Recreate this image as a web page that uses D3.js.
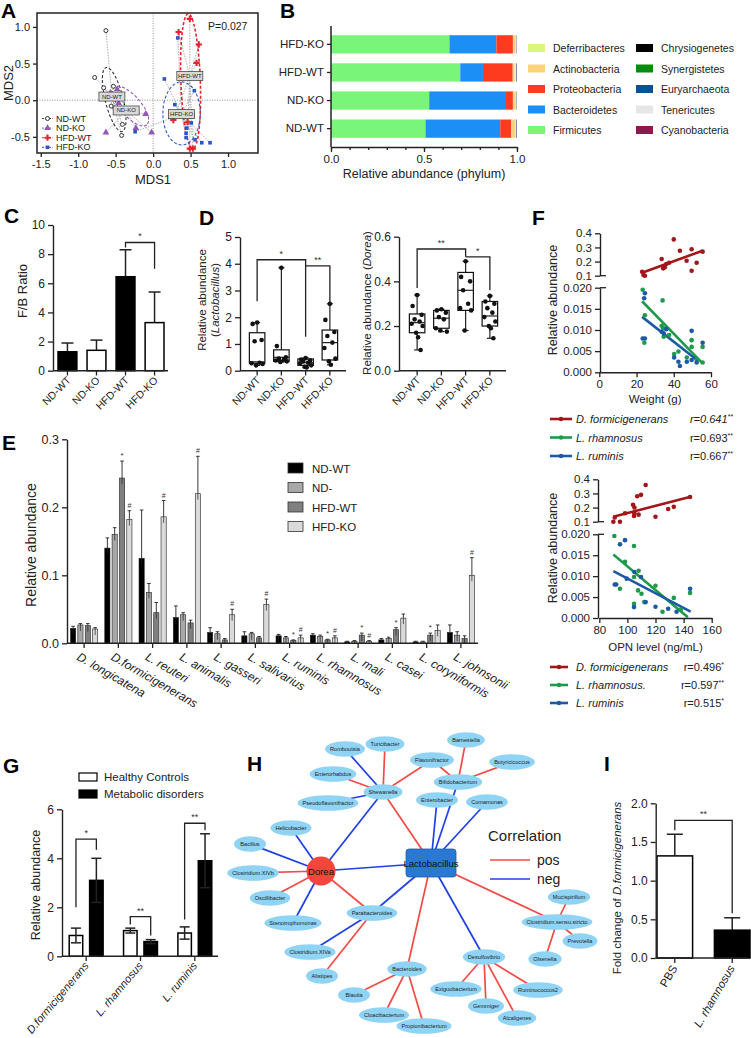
<!DOCTYPE html>
<html>
<head>
<meta charset="utf-8">
<script src="https://cdn.jsdelivr.net/npm/d3@7"></script>
<style>
body { margin: 0; background: #fff; }
svg { display: block; font-family: Arial, "Liberation Sans", Helvetica, sans-serif; }
</style>
</head>
<body>
<svg id="fig" width="751" height="1038"></svg>
<script>
// ---------------- data ----------------
// A: MDS ordination
const mdsGroups = ["ND-WT", "ND-KO", "HFD-WT", "HFD-KO"];
const mdsColors = ["#333333", "#9457b8", "#e8232d", "#2c54c9"];
const mdsShapes = ["circle", "triangle", "plus", "square"];
const mdsNDWT = [[-0.63,0.95],[-0.78,0.31],[-0.66,0.17],[-0.53,0.19],[-0.56,-0.08],[-0.51,-0.11],[-0.41,-0.33],[-0.42,-0.48]];
const mdsNDKO = [[-0.48,0.15],[-0.46,-0.04],[-0.57,0.10],[-0.63,-0.44],[-0.23,-0.38],[-0.10,-0.19],[-0.02,-0.44]];
const mdsHFDWT = [[0.49,1.11],[0.34,0.93],[0.61,0.76],[0.58,0.51],[0.27,-0.27],[0.49,-0.66],[0.53,-0.66],[0.46,-0.30]];
const mdsHFDKO = [[0.33,0.85],[0.15,0.29],[0.55,0.13],[0.29,-0.06],[0.51,-0.31],[0.45,-0.38],[0.44,-0.45],[0.44,-0.51],[0.56,-0.54],[0.65,-0.58],[0.76,-0.58],[-0.24,-0.43]];
const mdsCentroids = [[-0.55,0.05],[-0.36,-0.14],[0.49,0.33],[0.38,-0.19]];
// cx, cy, rx, ry (data units), angle
const mdsEllipses = [[-0.52,0.01,0.12,0.45,-14],[-0.30,-0.08,0.33,0.14,49],[0.50,0.26,0.13,0.92,-2],[0.38,-0.18,0.25,0.43,0]];

// B: phylum composition
const phylaGroups = ["HFD-KO", "HFD-WT", "ND-KO", "ND-WT"];
const firmicutes     = [0.637, 0.695, 0.528, 0.508];
const bacteroidetes  = [0.252, 0.122, 0.413, 0.402];
const proteobacteria = [0.089, 0.160, 0.037, 0.059];
const actinobacteria = [0.013, 0.010, 0.015, 0.022];
const deferribacteres= [0.004, 0.005, 0.003, 0.003];
const tenericutes    = [0.002, 0.003, 0.002, 0.002];
const cyanobacteria  = [0.001, 0.002, 0.001, 0.002];
const euryarchaeota  = [0.001, 0.002, 0.001, 0.002];
const phylaStackOrder = ["Firmicutes","Bacteroidetes","Proteobacteria","Actinobacteria","Deferribacteres","Tenericutes","Cyanobacteria","Euryarchaeota"];
const phylaLegend1 = ["Deferribacteres","Actinobacteria","Proteobacteria","Bacteroidetes","Firmicutes"];
const phylaLegend2 = ["Chrysiogenetes","Synergistetes","Euryarchaeota","Tenericutes","Cyanobacteria"];
const phylaColors = {Deferribacteres:"#dcf57c", Actinobacteria:"#fdd27c", Proteobacteria:"#ff3b1f", Bacteroidetes:"#1b8ff5",
  Firmicutes:"#79f57a", Chrysiogenetes:"#000000", Synergistetes:"#0b8a12", Euryarchaeota:"#0b4f98", Tenericutes:"#e6e6e6", Cyanobacteria:"#8c1a4e"};

// C: F/B ratio
const fourGroups = ["ND-WT", "ND-KO", "HFD-WT", "HFD-KO"];
const fbMean = [1.3, 1.4, 6.45, 3.3];
const fbUpper = [1.9, 2.1, 8.3, 5.4];

// D: Lactobacillus box plots
const lactoMin = [0.20, 0.32, 0.12, 0.22];
const lactoQ1  = [0.28, 0.35, 0.20, 0.40];
const lactoMed = [0.33, 0.50, 0.30, 1.05];
const lactoQ3  = [1.42, 0.78, 0.44, 1.52];
const lactoMax = [1.80, 3.85, 0.48, 2.50];
const lactoPts = [[1.8,1.75,1.15,1.1,0.3,0.28,0.25,0.2],[3.85,0.92,0.5,0.45,0.42,0.38,0.35,0.33],[0.47,0.42,0.38,0.35,0.3,0.28,0.2,0.15,0.12],[2.5,1.9,1.45,1.3,1.05,0.85,0.45,0.35,0.22]];
// D: Dorea box plots
const doreaMin = [0.093, 0.175, 0.18, 0.145];
const doreaQ1  = [0.170, 0.190, 0.27, 0.200];
const doreaMed = [0.215, 0.235, 0.36, 0.245];
const doreaQ3  = [0.254, 0.270, 0.44, 0.310];
const doreaMax = [0.339, 0.275, 0.49, 0.335];
const doreaPts = [[0.339,0.29,0.25,0.23,0.22,0.21,0.2,0.17,0.15,0.093],[0.275,0.27,0.26,0.24,0.23,0.19,0.175,0.18],[0.49,0.42,0.40,0.36,0.3,0.28,0.27,0.18],[0.335,0.31,0.3,0.28,0.26,0.24,0.22,0.2,0.19,0.145]];

// E: species abundance
const eSpecies = ["D. longicatena","D.formicigenerans","L. reuteri","L. animalis","L. gasseri","L. salivarius","L. ruminis","L. rhamnosus","L. mali","L. casei","L. coryniformis","L. johnsonii"];
const eSeries = ["ND-WT", "ND-", "HFD-WT", "HFD-KO"];
const eColors = ["#000000", "#a8a8a8", "#808080", "#dadada"];
const eNDWT     = [0.022,0.140,0.125,0.038,0.016,0.011,0.011,0.012,0.002,0.005,0.002,0.016];
const eNDWTErr  = [0.025,0.155,0.196,0.055,0.023,0.017,0.013,0.014,0.003,0.007,0.003,0.027];
const eNDKO     = [0.027,0.160,0.075,0.042,0.014,0.014,0.008,0.010,0.003,0.007,0.002,0.012];
const eNDKOErr  = [0.029,0.170,0.088,0.045,0.017,0.016,0.010,0.012,0.004,0.009,0.003,0.017];
const eHFDWT    = [0.026,0.243,0.045,0.030,0.005,0.008,0.004,0.005,0.012,0.020,0.012,0.007];
const eHFDWTErr = [0.029,0.268,0.060,0.034,0.007,0.010,0.005,0.006,0.015,0.023,0.015,0.011];
const eHFDKO    = [0.021,0.182,0.186,0.220,0.042,0.057,0.008,0.008,0.003,0.037,0.019,0.100];
const eHFDKOErr = [0.023,0.195,0.210,0.275,0.050,0.065,0.012,0.011,0.004,0.043,0.027,0.126];
const eStarWT = [0,1,0,0,0,0,1,1,1,1,1,0];
const eHashKO = [0,1,1,1,1,1,1,1,1,0,0,1];

// F: correlations
const fSpecies = ["D. formicigenerans", "L. rhamnosus", "L. ruminis"];
const fColors = ["#a3161a", "#1f9a4b", "#1d5aa5"];
const fWeightR = ["r=0.641", "r=0.693", "r=0.667"];
const fWeightStars = ["**", "**", "**"];
const fOpnNames = ["D. formicigenerans", "L. rhamnosus.", "L. ruminis"];
const fOpnR = ["r=0.496", "r=0.597", "r=0.515"];
const fOpnStars = ["*", "**", "*"];
const fWeightRedX = [23,23.7,24.5,33.5,34.3,35.2,36,37.5,40,43.3,46.9,49.6,49.6,52.3,55.5];
const fWeightRedY = [0.128,0.105,0.1,0.218,0.152,0.159,0.183,0.192,0.357,0.277,0.206,0.287,0.135,0.192,0.27];
const fWeightGreenX = [23.3,24.5,24.2,34,33.5,34.3,34.6,37.5,40.2,42.5,47,49.6,49.6,52.3,55.5,55.5];
const fWeightGreenY = [0.0195,0.0135,0.007,0.017,0.011,0.0104,0.0084,0.0088,0.0043,0.0049,0.0035,0.0076,0.006,0.003,0.006,0.0023];
const fWeightBlueX = [24.5,24.1,23.3,24.5,33.5,34.6,36,40.2,42.5,43.3,47,49.6,49.6,52.3,55.5];
const fWeightBlueY = [0.0187,0.0175,0.008,0.008,0.0096,0.0092,0.0102,0.0035,0.0025,0.0015,0.0025,0.0098,0.0029,0.0023,0.007];
const fWeightLines = [[[23,0.121],[55.5,0.277]], [[23,0.0168],[55.5,0.0021]], [[23,0.0131],[52.5,0.0029]]];
const fOpnRedX = [90,94.7,91,98.3,104.7,105,105,107,109.7,113,108,120,129,133,144.6,104];
const fOpnRedY = [0.1,0.1,0.13,0.16,0.14,0.16,0.2,0.28,0.29,0.36,0.15,0.135,0.19,0.205,0.275,0.22];
const fOpnGreenX = [90.7,98.3,94.7,104.7,104.7,108,107.6,110,120,104.7,112,133,144.6,125,138];
const fOpnGreenY = [0.0196,0.0134,0.007,0.0172,0.0098,0.0113,0.0066,0.0058,0.0077,0.0034,0.0038,0.0048,0.006,0.0015,0.002];
const fOpnBlueX = [91,92,94.7,98.3,99.5,105,109.7,113,104.7,120,129,144.6,135];
const fOpnBlueY = [0.008,0.008,0.0176,0.0186,0.0094,0.011,0.0098,0.0038,0.0026,0.0027,0.0022,0.007,0.0015];
const fOpnLines = [[[90,0.135],[145,0.277]], [[90,0.0152],[143,0.0002]], [[90,0.0112],[145,0.0015]]];

// G: human cohort
const gSpecies = ["D.formicigenerans", "L. rhamnosus", "L. ruminis"];
const gHealthy = [0.85, 1.05, 0.95];
const gHealthyErr = [0.30, 0.10, 0.25];
const gMetabolic = [3.1, 0.6, 3.9];
const gMetabolicErr = [0.9, 0.08, 1.1];

// H: co-occurrence network (layout coordinates)
const hNodes = ["Romboutsia","Turicibacter","Barnesiella","Butyricicoccus","Enterorhabdus","Flavonifractor","Bifidobacterium","Shewanella",
  "Pseudoflavonifractor","Enterobacter","Comamonas","Helicobacter","Bacillus","Dorea","Lactobacillus","Clostridium.XIVb","Oscillibacter",
  "Stenotrophomonas","Parabacteroides","Clostridium.sensu.stricto","Mucispirillum","Prevotella","Olsenella","Clostridium.XIVa","Alistipes",
  "Bacteroides","Desulfovibrio","Blautia","Exiguobacterium","Cloacibacterium","Gemmiger","Propionibacterium","Ruminococcus2","Alcaligenes"];
const hNodeX = [110,150,231,277,98,197,223,148,93,202,252,56,15,86,196,18,35,58,137,322,334,345,310,75,87,172,249,119,221,149,251,189,303,282];
const hNodeY = [14,9,5,27,39,25,47,57,68,65,67,93,109,136,128,138,163,188,178,187,162,206,224,217,241,234,222,260,254,280,271,291,255,283];
const hEdges = [
  ["Shewanella","Romboutsia","neg"],["Shewanella","Turicibacter","pos"],["Shewanella","Enterorhabdus","pos"],["Shewanella","Pseudoflavonifractor","neg"],
  ["Shewanella","Flavonifractor","pos"],["Shewanella","Dorea","neg"],["Shewanella","Lactobacillus","pos"],
  ["Bifidobacterium","Flavonifractor","pos"],["Bifidobacterium","Barnesiella","pos"],["Bifidobacterium","Butyricicoccus","pos"],["Bifidobacterium","Lactobacillus","neg"],
  ["Lactobacillus","Enterobacter","neg"],["Lactobacillus","Comamonas","neg"],["Lactobacillus","Dorea","neg"],["Lactobacillus","Parabacteroides","neg"],
  ["Lactobacillus","Bacteroides","pos"],["Lactobacillus","Desulfovibrio","neg"],["Lactobacillus","Clostridium.sensu.stricto","pos"],
  ["Dorea","Helicobacter","neg"],["Dorea","Bacillus","neg"],["Dorea","Clostridium.XIVb","pos"],["Dorea","Oscillibacter","pos"],
  ["Dorea","Stenotrophomonas","neg"],["Dorea","Parabacteroides","pos"],
  ["Parabacteroides","Clostridium.XIVa","neg"],["Parabacteroides","Alistipes","pos"],
  ["Bacteroides","Blautia","pos"],["Bacteroides","Cloacibacterium","pos"],["Bacteroides","Propionibacterium","pos"],
  ["Desulfovibrio","Exiguobacterium","pos"],["Desulfovibrio","Gemmiger","pos"],["Desulfovibrio","Ruminococcus2","pos"],["Desulfovibrio","Alcaligenes","pos"],
  ["Clostridium.sensu.stricto","Mucispirillum","pos"],["Clostridium.sensu.stricto","Prevotella","pos"],["Clostridium.sensu.stricto","Olsenella","pos"]
];

// I: qPCR fold change
const iGroups = ["PBS", "L. rhamnosus"];
const iFold = [1.32, 0.36];
const iErr = [0.28, 0.16];

// ---------------- helpers ----------------
const FONT = 'Arial, "Liberation Sans", Helvetica, sans-serif';
const svg = d3.select("#fig");
svg.append("rect").attr("width", 751).attr("height", 1038).attr("fill", "#fff");

function styleAxis(a, fs) {
    a.selectAll("path.domain").attr("stroke", "#222").attr("stroke-width", 1.4);
    a.selectAll(".tick line").attr("stroke", "#222").attr("stroke-width", 1.3);
    a.selectAll(".tick text").attr("fill", "#222").attr("font-size", fs || 11.5).attr("font-family", FONT);
}
function panelLetter(t, x, y) {
    svg.append("text").attr("x", x).attr("y", y).attr("font-size", 21).attr("font-weight", "bold")
        .attr("font-family", FONT).attr("fill", "#000").text(t);
}
function hline(g, x1, x2, y, w) {
    g.append("line").attr("x1", x1).attr("x2", x2).attr("y1", y).attr("y2", y).attr("stroke", "#222").attr("stroke-width", w || 1.3);
}
function vline(g, x, y1, y2, w) {
    g.append("line").attr("x1", x).attr("x2", x).attr("y1", y1).attr("y2", y2).attr("stroke", "#222").attr("stroke-width", w || 1.3);
}
function rotLabel(g, text, x, y, fs, italicPart) {
    const t = g.append("text").attr("transform", `translate(${x},${y}) rotate(-90)`).attr("text-anchor", "middle")
        .attr("font-size", fs).attr("font-family", FONT).attr("fill", "#222");
    t.append("tspan").text(text);
    if (italicPart) t.append("tspan").attr("font-style", "italic").text(italicPart);
    return t;
}
function bracket(g, x1, x2, y, b1, b2, mark) {
    g.append("path").attr("d", `M${x1},${b1}V${y}H${x2}V${b2}`).attr("fill", "none").attr("stroke", "#222").attr("stroke-width", 1.3);
    g.append("text").attr("x", (x1 + x2) / 2).attr("y", y - 3).attr("text-anchor", "middle").attr("font-size", 9)
        .attr("font-family", FONT).attr("fill", "#333").text(mark);
}
const intFmt = d3.format("d");

// ---------------- Panel A ----------------
(function () {
    const g = svg.append("g");
    const xA = d3.scaleLinear().domain([-1.55, 1.40]).range([37, 258]);
    const yA = d3.scaleLinear().domain([-0.72, 1.19]).range([153, 13]);
    g.append("line").attr("x1", xA(0)).attr("x2", xA(0)).attr("y1", 13).attr("y2", 153)
        .attr("stroke", "#777").attr("stroke-width", 0.8).attr("stroke-dasharray", "1,1.5");
    g.append("line").attr("x1", 37).attr("x2", 258).attr("y1", yA(0)).attr("y2", yA(0))
        .attr("stroke", "#777").attr("stroke-width", 0.8).attr("stroke-dasharray", "1,1.5");

    const allPts = [mdsNDWT, mdsNDKO, mdsHFDWT, mdsHFDKO];
    allPts.forEach((pts, i) => {
        const c = mdsCentroids[i];
        pts.forEach(p => g.append("line").attr("x1", xA(p[0])).attr("y1", yA(p[1])).attr("x2", xA(c[0])).attr("y2", yA(c[1]))
            .attr("stroke", "#9a9a9a").attr("stroke-width", 0.8).attr("stroke-dasharray", "1.5,1.2"));
    });
    mdsEllipses.forEach((e, i) => {
        g.append("ellipse").attr("transform", `translate(${xA(e[0])},${yA(e[1])}) rotate(${e[4]})`)
            .attr("rx", e[2] * (xA(1) - xA(0))).attr("ry", e[3] * (yA(0) - yA(1)))
            .attr("fill", "none").attr("stroke", mdsColors[i]).attr("stroke-width", i === 2 ? 1.6 : 1.1)
            .attr("stroke-dasharray", "3,2");
    });
    function marker(shape, x, y, color) {
        if (shape === "circle") {
            g.append("circle").attr("cx", x).attr("cy", y).attr("r", 2).attr("fill", "#fff").attr("stroke", color).attr("stroke-width", 1);
        } else {
            const sym = shape === "triangle" ? d3.symbolTriangle : shape === "plus" ? d3.symbolCross : d3.symbolSquare;
            const size = shape === "triangle" ? 20 : shape === "plus" ? 22 : 13;
            g.append("path").attr("transform", `translate(${x},${y})`).attr("d", d3.symbol(sym, size)()).attr("fill", color);
        }
    }
    allPts.forEach((pts, i) => pts.forEach(p => marker(mdsShapes[i], xA(p[0]), yA(p[1]), mdsColors[i])));

    mdsCentroids.forEach((c, i) => {
        const cx = xA(c[0]), cy = yA(c[1]);
        g.append("rect").attr("x", cx - 13).attr("y", cy - 4.5).attr("width", 26).attr("height", 9)
            .attr("fill", "#d9d9d9").attr("stroke", "#333").attr("stroke-width", 0.7);
        g.append("text").attr("x", cx).attr("y", cy + 2).attr("text-anchor", "middle").attr("font-size", 6)
            .attr("font-family", FONT).attr("fill", "#222").text(mdsGroups[i]);
    });

    // legend
    mdsGroups.forEach((name, i) => {
        const y = 118.5 + i * 9.6;
        g.append("line").attr("x1", 42).attr("x2", 53).attr("y1", y).attr("y2", y).attr("stroke", mdsColors[i])
            .attr("stroke-width", 1).attr("stroke-dasharray", "2,1.5");
        marker(mdsShapes[i], 47.5, y, mdsColors[i]);
        g.append("text").attr("x", 56).attr("y", y + 3).attr("font-size", 9).attr("font-family", FONT).attr("fill", "#222").text(name);
    });

    g.append("text").attr("x", 208).attr("y", 30).attr("font-size", 10.5).attr("font-family", FONT).attr("fill", "#222").text("P=0.027");

    g.append("g").attr("transform", "translate(0,153)")
        .call(d3.axisBottom(xA).tickValues([-1.5, -1, -0.5, 0, 0.5, 1]).tickFormat(d => d.toFixed(1)).tickSize(4).tickSizeOuter(0))
        .call(a => { a.select(".domain").remove(); styleAxis(a, 11); });
    g.append("g").attr("transform", "translate(37,0)")
        .call(d3.axisLeft(yA).tickValues([-0.5, 0, 0.5, 1]).tickFormat(d => d.toFixed(1)).tickSize(4).tickSizeOuter(0))
        .call(a => { a.select(".domain").remove(); styleAxis(a, 11); });
    g.append("rect").attr("x", 37).attr("y", 13).attr("width", 221).attr("height", 140)
        .attr("fill", "none").attr("stroke", "#222").attr("stroke-width", 1.5);
    g.append("text").attr("x", 153).attr("y", 184).attr("text-anchor", "middle").attr("font-size", 13)
        .attr("font-family", FONT).attr("fill", "#222").text("MDS1");
    rotLabel(g, "MDS2", 13, 83, 13);
})();
panelLetter("A", 1, 18);

// ---------------- Panel B ----------------
(function () {
    const g = svg.append("g");
    const x = d3.scaleLinear().domain([0, 1]).range([331, 517]);
    const y = d3.scaleBand().domain(phylaGroups).range([31, 142]).paddingInner(0.35).paddingOuter(0.15);
    const rows = phylaGroups.map((grp, i) => ({
        group: grp, Firmicutes: firmicutes[i], Bacteroidetes: bacteroidetes[i], Proteobacteria: proteobacteria[i],
        Actinobacteria: actinobacteria[i], Deferribacteres: deferribacteres[i], Tenericutes: tenericutes[i],
        Cyanobacteria: cyanobacteria[i], Euryarchaeota: euryarchaeota[i]
    }));
    const series = d3.stack().keys(phylaStackOrder)(rows);
    series.forEach(s => {
        g.selectAll(null).data(s).enter().append("rect")
            .attr("x", d => x(d[0])).attr("width", d => Math.max(0, x(d[1]) - x(d[0])))
            .attr("y", d => y(d.data.group)).attr("height", y.bandwidth())
            .attr("fill", phylaColors[s.key]);
    });
    g.append("g").attr("transform", "translate(331,0)")
        .call(d3.axisLeft(y).tickSize(4).tickSizeOuter(0))
        .call(a => { a.select(".domain").remove(); styleAxis(a, 11.5); });
    vline(g, 331, 26, 147, 1.5);
    g.append("g").attr("transform", "translate(0,147)")
        .call(d3.axisBottom(x).ticks(10).tickSize(3).tickFormat("").tickSizeOuter(0))
        .call(a => { a.select(".domain").remove(); styleAxis(a); });
    g.append("g").attr("transform", "translate(0,147)")
        .call(d3.axisBottom(x).tickValues([0, 0.5, 1]).tickFormat(d => d.toFixed(1)).tickSize(5).tickSizeOuter(0))
        .call(a => { styleAxis(a, 11.5); });
    g.append("text").attr("x", 424).attr("y", 178).attr("text-anchor", "middle").attr("font-size", 12.5)
        .attr("font-family", FONT).attr("fill", "#222").text("Relative abundance (phylum)");
    [phylaLegend1, phylaLegend2].forEach((col, ci) => {
        const sx = ci === 0 ? 528 : 636;
        col.forEach((name, i) => {
            const yy = 48 + i * 20.5;
            g.append("rect").attr("x", sx).attr("y", yy - 4).attr("width", 17).attr("height", 8).attr("fill", phylaColors[name]);
            g.append("text").attr("x", sx + 25).attr("y", yy + 4).attr("font-size", 10.5).attr("font-family", FONT)
                .attr("fill", "#222").text(name);
        });
    });
})();
panelLetter("B", 280, 18);

// ---------------- Panel C ----------------
(function () {
    const g = svg.append("g");
    const x = d3.scaleBand().domain(fourGroups).range([58, 164]).paddingInner(0.35).paddingOuter(0);
    const y = d3.scaleLinear().domain([0, 10]).range([370.7, 225]);
    const fills = ["#000", "#fff", "#000", "#fff"];
    fourGroups.forEach((grp, i) => {
        const cx = x(grp) + x.bandwidth() / 2;
        vline(g, cx, y(fbMean[i]), y(fbUpper[i]), 1.5);
        hline(g, cx - 6, cx + 6, y(fbUpper[i]), 1.5);
        g.append("rect").attr("x", x(grp)).attr("y", y(fbMean[i])).attr("width", x.bandwidth())
            .attr("height", y(0) - y(fbMean[i])).attr("fill", fills[i]).attr("stroke", "#000").attr("stroke-width", 1.5);
    });
    const c3 = x("HFD-WT") + x.bandwidth() / 2, c4 = x("HFD-KO") + x.bandwidth() / 2;
    bracket(g, c3, c4, y(8.8), y(8.45), y(7.0), "*");
    g.append("g").attr("transform", "translate(53,0)")
        .call(d3.axisLeft(y).tickValues([0, 2, 4, 6, 8, 10]).tickFormat(intFmt).tickSize(5).tickSizeOuter(0))
        .call(a => styleAxis(a, 12));
    hline(g, 53, 168, 370.7, 1.5);
    fourGroups.forEach(grp => {
        const cx = x(grp) + x.bandwidth() / 2;
        vline(g, cx, 370.7, 375.5);
        g.append("text").attr("transform", `translate(${cx + 4},${381}) rotate(-45)`).attr("text-anchor", "end")
            .attr("font-size", 10.5).attr("font-family", FONT).attr("fill", "#222").text(grp);
    });
    rotLabel(g, "F/B Ratio", 27, 291, 13);
})();
panelLetter("C", 4, 223);

// ---------------- Panel D ----------------
function boxPanel(g, range, y, mins, q1, med, q3, maxs, pts) {
    const x = d3.scaleBand().domain(fourGroups).range(range);
    const w = 15.5;
    fourGroups.forEach((grp, i) => {
        const cx = x(grp) + x.bandwidth() / 2;
        vline(g, cx, y(maxs[i]), y(q3[i]), 1.2);
        vline(g, cx, y(q1[i]), y(mins[i]), 1.2);
        hline(g, cx - 3, cx + 3, y(maxs[i]), 1.2);
        hline(g, cx - 3, cx + 3, y(mins[i]), 1.2);
        g.append("rect").attr("x", cx - w / 2).attr("y", y(q3[i])).attr("width", w).attr("height", y(q1[i]) - y(q3[i]))
            .attr("fill", "#fff").attr("stroke", "#111").attr("stroke-width", 1.2);
        hline(g, cx - w / 2, cx + w / 2, y(med[i]), 1.2);
        pts[i].forEach((v, j) => {
            const off = [0, -4.5, 4.5, -2.5, 2.5, -5.5, 5.5, -1, 1, 3.5][j % 10];
            g.append("circle").attr("cx", cx + off).attr("cy", y(v)).attr("r", 2.3).attr("fill", "#111");
        });
    });
    return x;
}
(function () {
    const g = svg.append("g");
    const y = d3.scaleLinear().domain([0, 5]).range([370.7, 237]);
    const x = boxPanel(g, [245, 342], y, lactoMin, lactoQ1, lactoMed, lactoQ3, lactoMax, lactoPts);
    const c = grp => x(grp) + x.bandwidth() / 2;
    bracket(g, c("ND-WT"), c("HFD-WT"), y(4.15), y(2.6), y(1.27), "*");
    bracket(g, c("HFD-WT"), c("HFD-KO"), y(3.92), y(3.92), y(2.5), "**");
    g.append("g").attr("transform", "translate(240,0)")
        .call(d3.axisLeft(y).tickValues([0, 1, 2, 3, 4, 5]).tickFormat(intFmt).tickSize(5).tickSizeOuter(0))
        .call(a => styleAxis(a, 12));
    hline(g, 240, 346, 370.7, 1.5);
    fourGroups.forEach(grp => {
        vline(g, c(grp), 370.7, 375.5);
        g.append("text").attr("transform", `translate(${c(grp) + 4},${381}) rotate(-45)`).attr("text-anchor", "end")
            .attr("font-size", 10.5).attr("font-family", FONT).attr("fill", "#222").text(grp);
    });
    rotLabel(g, "Relative abundance", 206, 300, 11.5);
    rotLabel(g, "(", 219, 300, 11.5, "Lactobacillus").append("tspan").text(")");
})();
(function () {
    const g = svg.append("g");
    const y = d3.scaleLinear().domain([0, 0.6]).range([370.7, 236.7]);
    const x = boxPanel(g, [405, 502], y, doreaMin, doreaQ1, doreaMed, doreaQ3, doreaMax, doreaPts);
    const c = grp => x(grp) + x.bandwidth() / 2;
    bracket(g, c("ND-WT"), c("HFD-WT"), y(0.545), y(0.37), y(0.51), "**");
    bracket(g, c("HFD-WT"), c("HFD-KO"), y(0.51), y(0.51), y(0.36), "*");
    g.append("g").attr("transform", "translate(399,0)")
        .call(d3.axisLeft(y).tickValues([0, 0.2, 0.4, 0.6]).tickFormat(d3.format(".1f")).tickSize(5).tickSizeOuter(0))
        .call(a => styleAxis(a, 12));
    hline(g, 399, 506, 370.7, 1.5);
    fourGroups.forEach(grp => {
        vline(g, c(grp), 370.7, 375.5);
        g.append("text").attr("transform", `translate(${c(grp) + 4},${381}) rotate(-45)`).attr("text-anchor", "end")
            .attr("font-size", 10.5).attr("font-family", FONT).attr("fill", "#222").text(grp);
    });
    rotLabel(g, "Relative abundance (", 371, 303, 11.5, "Dorea").append("tspan").text(")");
})();
panelLetter("D", 199, 225);

// ---------------- Panel E ----------------
(function () {
    const g = svg.append("g");
    const x = d3.scaleBand().domain(eSpecies).range([67, 478]);
    const y = d3.scaleLinear().domain([0, 0.3]).range([643.3, 439.3]);
    const vals = [eNDWT, eNDKO, eHFDWT, eHFDKO];
    const errs = [eNDWTErr, eNDKOErr, eHFDWTErr, eHFDKOErr];
    const offs = [-11, -3.7, 3.7, 11];
    const bw = 5.2;
    eSpecies.forEach((sp, i) => {
        const cx = x(sp) + x.bandwidth() / 2;
        vals.forEach((arr, s) => {
            const bx = cx + offs[s];
            vline(g, bx, y(arr[i]), y(errs[s][i]), 0.9);
            hline(g, bx - 1.8, bx + 1.8, y(errs[s][i]), 0.9);
            g.append("rect").attr("x", bx - bw / 2).attr("y", y(arr[i])).attr("width", bw).attr("height", y(0) - y(arr[i]))
                .attr("fill", eColors[s]).attr("stroke", "#222").attr("stroke-width", 0.6);
            vline(g, bx, y(arr[i]), Math.min(y(arr[i]) + 6, y(0)), 0.7);
        });
        if (eStarWT[i]) g.append("text").attr("x", cx + offs[2]).attr("y", y(errs[2][i]) - 3).attr("text-anchor", "middle")
            .attr("font-size", 8).attr("font-family", FONT).attr("fill", "#333").text("*");
        if (eHashKO[i]) g.append("text").attr("x", cx + offs[3]).attr("y", y(errs[3][i]) - 3).attr("text-anchor", "middle")
            .attr("font-size", 7).attr("font-family", FONT).attr("fill", "#333").text("#");
    });
    g.append("g").attr("transform", "translate(67,0)")
        .call(d3.axisLeft(y).tickValues([0, 0.1, 0.2, 0.3]).tickFormat(d3.format(".1f")).tickSize(5).tickSizeOuter(0))
        .call(a => styleAxis(a, 12.5));
    hline(g, 67, 478, 643.3, 1.5);
    eSpecies.forEach(sp => {
        const cx = x(sp) + x.bandwidth() / 2;
        vline(g, cx, 643.3, 648);
        g.append("text").attr("transform", `translate(${cx - 4},${652}) rotate(30)`).attr("dy", "0.7em")
            .attr("font-size", 12).attr("font-style", "italic").attr("font-family", FONT).attr("fill", "#222").text(sp);
    });
    eSeries.forEach((name, s) => {
        const yy = 463 + s * 19.5;
        g.append("rect").attr("x", 288).attr("y", yy).attr("width", 15).attr("height", 10)
            .attr("fill", eColors[s]).attr("stroke", "#333").attr("stroke-width", 0.8);
        g.append("text").attr("x", 312).attr("y", yy + 9.5).attr("font-size", 11.5).attr("font-family", FONT)
            .attr("fill", "#222").text(name);
    });
    rotLabel(g, "Relative abundance", 36, 545, 14);
})();
panelLetter("E", 2, 450);

// ---------------- Panel F ----------------
function scatterPanel(g, x, yTop, yBot, xTicks, pts, lines, axisY, xTitle, xTitleY, ylabelY) {
    const yOf = v => v >= 0.05 ? yTop(v) : yBot(v);
    lines.forEach((ln, k) => {
        g.append("line").attr("x1", x(ln[0][0])).attr("y1", yOf(ln[0][1])).attr("x2", x(ln[1][0])).attr("y2", yOf(ln[1][1]))
            .attr("stroke", fColors[k]).attr("stroke-width", 2.6);
    });
    pts.forEach((p, k) => {
        p[0].forEach((xv, j) => {
            g.append("circle").attr("cx", x(xv)).attr("cy", yOf(p[1][j])).attr("r", 2.3).attr("fill", fColors[k]);
        });
    });
    g.append("g").attr("transform", `translate(${axisY},0)`)
        .call(d3.axisLeft(yTop).tickValues([0.1, 0.2, 0.3, 0.4]).tickFormat(d3.format(".1f")).tickSize(5).tickSizeOuter(0))
        .call(a => styleAxis(a, 11.5));
    g.append("g").attr("transform", `translate(${axisY},0)`)
        .call(d3.axisLeft(yBot).tickValues([0, 0.005, 0.01, 0.015, 0.02]).tickFormat(d3.format(".3f")).tickSize(5).tickSizeOuter(0))
        .call(a => styleAxis(a, 11.5));
    hline(g, axisY, axisY + 6, yTop(0.1), 1.3);
    hline(g, axisY, axisY + 6, yBot(0.02), 1.3);
    g.append("g").attr("transform", `translate(0,${yBot(0)})`)
        .call(d3.axisBottom(x).tickValues(xTicks).tickSize(5).tickSizeOuter(0))
        .call(a => styleAxis(a, 11.5));
    g.append("text").attr("x", (x.range()[0] + x.range()[1]) / 2).attr("y", xTitleY).attr("text-anchor", "middle")
        .attr("font-size", 11.5).attr("font-family", FONT).attr("fill", "#222").text(xTitle);
    rotLabel(g, "Relative abundance", 557, ylabelY, 12.5);
}
function fLegend(g, y0, dy, names, rs, stars, rRight, lineEnd, italicFirstR) {
    names.forEach((name, k) => {
        const yy = y0 + k * dy;
        g.append("line").attr("x1", 550).attr("x2", lineEnd).attr("y1", yy).attr("y2", yy).attr("stroke", fColors[k]).attr("stroke-width", 2.6);
        g.append("circle").attr("cx", (550 + lineEnd) / 2).attr("cy", yy).attr("r", 2.2).attr("fill", fColors[k]);
        g.append("text").attr("x", 576).attr("y", yy + 4).attr("font-size", 11).attr("font-style", "italic")
            .attr("font-family", FONT).attr("fill", "#222").text(name);
        const t = g.append("text").attr("x", rRight).attr("y", yy + 4).attr("text-anchor", "end").attr("font-size", 11)
            .attr("font-family", FONT).attr("fill", "#222").attr("font-style", italicFirstR && k === 0 ? "italic" : "normal");
        t.append("tspan").text(rs[k]);
        t.append("tspan").attr("dy", -4).attr("font-size", 7).text(stars[k]);
    });
}
(function () {
    const g = svg.append("g");
    const x = d3.scaleLinear().domain([0, 60]).range([599.3, 711]);
    const yTop = d3.scaleLinear().domain([0.1, 0.4]).range([275.7, 233.3]);
    const yBot = d3.scaleLinear().domain([0, 0.02]).range([372.3, 287.7]);
    scatterPanel(g, x, yTop, yBot, [0, 20, 40, 60],
        [[fWeightRedX, fWeightRedY], [fWeightGreenX, fWeightGreenY], [fWeightBlueX, fWeightBlueY]],
        fWeightLines, 600, "Weight (g)", 403, 300);
    fLegend(g, 419, 18.5, fSpecies, fWeightR, fWeightStars, 733, 572, true);
})();
(function () {
    const g = svg.append("g");
    const x = d3.scaleLinear().domain([80, 160]).range([599.3, 711.7]);
    const yTop = d3.scaleLinear().domain([0.1, 0.4]).range([521.7, 479.3]);
    const yBot = d3.scaleLinear().domain([0, 0.02]).range([618, 534.3]);
    scatterPanel(g, x, yTop, yBot, [80, 100, 120, 140, 160],
        [[fOpnRedX, fOpnRedY], [fOpnGreenX, fOpnGreenY], [fOpnBlueX, fOpnBlueY]],
        fOpnLines, 598, "OPN level (ng/mL)", 651, 548);
    fLegend(g, 667, 18, fOpnNames, fOpnR, fOpnStars, 724, 568, false);
})();
panelLetter("F", 532, 225);

// ---------------- Panel G ----------------
(function () {
    const g = svg.append("g");
    const x = d3.scaleBand().domain(gSpecies).range([59, 222]);
    const y = d3.scaleLinear().domain([0, 6]).range([956.3, 809.3]);
    const bw = 13.5, off = 10.2;
    gSpecies.forEach((sp, i) => {
        const cx = x(sp) + x.bandwidth() / 2;
        [[gHealthy, gHealthyErr, "#fff", -off], [gMetabolic, gMetabolicErr, "#000", off]].forEach(([v, e, fill, o]) => {
            const bx = cx + o;
            g.append("rect").attr("x", bx - bw / 2).attr("y", y(v[i])).attr("width", bw).attr("height", y(0) - y(v[i]))
                .attr("fill", fill).attr("stroke", "#000").attr("stroke-width", 1.5);
            vline(g, bx, y(v[i] - e[i]), y(v[i] + e[i]), 1.5);
            hline(g, bx - 5, bx + 5, y(v[i] + e[i]), 1.5);
            hline(g, bx - 5, bx + 5, y(v[i] - e[i]), 1.5);
        });
    });
    const c = sp => x(sp) + x.bandwidth() / 2;
    bracket(g, c(gSpecies[0]) - off, c(gSpecies[0]) + off, y(4.78), y(2.0), y(4.35), "*");
    bracket(g, c(gSpecies[1]) - off, c(gSpecies[1]) + off, y(1.62), y(1.3), y(0.85), "**");
    bracket(g, c(gSpecies[2]) - off, c(gSpecies[2]) + off, y(5.43), y(1.5), y(5.15), "**");
    g.append("g").attr("transform", "translate(62,0)")
        .call(d3.axisLeft(y).tickValues([0, 2, 4, 6]).tickFormat(intFmt).tickSize(5).tickSizeOuter(0))
        .call(a => styleAxis(a, 12));
    hline(g, 62, 218, 956.3, 1.5);
    gSpecies.forEach(sp => {
        vline(g, c(sp), 956.3, 961);
        g.append("text").attr("transform", `translate(${c(sp) + 3},${966}) rotate(-50)`).attr("text-anchor", "end")
            .attr("font-size", 11).attr("font-style", "italic").attr("font-family", FONT).attr("fill", "#222").text(sp);
    });
    [["Healthy Controls", "#fff", 773], ["Metabolic disorders", "#000", 790]].forEach(([name, fill, yy]) => {
        g.append("rect").attr("x", 79).attr("y", yy).attr("width", 18).attr("height", 8).attr("fill", fill)
            .attr("stroke", "#000").attr("stroke-width", 1.2);
        g.append("text").attr("x", 104).attr("y", yy + 8).attr("font-size", 11.5).attr("font-family", FONT)
            .attr("fill", "#222").text(name);
    });
    rotLabel(g, "Relative abundance", 40, 885, 12.5);
})();
panelLetter("G", 3, 773);

// ---------------- Panel H ----------------
(function () {
    const g = svg.append("g");
    const hx = d3.scaleLinear().domain([0, 300]).range([235, 535]);
    const hy = d3.scaleLinear().domain([0, 300]).range([735, 1035]);
    const pos = {};
    hNodes.forEach((n, i) => pos[n] = [hx(hNodeX[i]), hy(hNodeY[i])]);
    hEdges.forEach(([a, b, s]) => {
        g.append("line").attr("x1", pos[a][0]).attr("y1", pos[a][1]).attr("x2", pos[b][0]).attr("y2", pos[b][1])
            .attr("stroke", s === "pos" ? "#f24b45" : "#1f40e6").attr("stroke-width", 1.7);
    });
    hNodes.forEach(n => {
        const [px, py] = pos[n];
        if (n === "Dorea") {
            g.append("circle").attr("cx", px).attr("cy", py).attr("r", 14.5).attr("fill", "#f5463d");
            g.append("text").attr("x", px).attr("y", py + 3.5).attr("text-anchor", "middle").attr("font-size", 9.5)
                .attr("font-family", FONT).attr("fill", "#111").text(n);
        } else if (n === "Lactobacillus") {
            g.append("rect").attr("x", px - 25).attr("y", py - 14).attr("width", 50).attr("height", 28).attr("rx", 3)
                .attr("fill", "#2b78d2").attr("stroke", "#1b5fb0").attr("stroke-width", 0.8);
            g.append("text").attr("x", px).attr("y", py + 3.5).attr("text-anchor", "middle").attr("font-size", 9.5)
                .attr("font-family", FONT).attr("fill", "#111").text(n);
        } else {
            const el = g.append("ellipse").attr("cx", px).attr("cy", py).attr("ry", 7.8).attr("fill", "#8fd4f4");
            const t = g.append("text").attr("x", px).attr("y", py + 2).attr("text-anchor", "middle").attr("font-size", 5.6)
                .attr("font-family", FONT).attr("fill", "#222").text(n);
            const w = t.node().getComputedTextLength();
            el.attr("rx", Math.max(16, w / 2 + 5));
        }
    });
    g.append("text").attr("x", 488).attr("y", 841).attr("font-size", 15).attr("font-family", FONT).attr("fill", "#222").text("Correlation");
    [["pos", "#f24b45", 860], ["neg", "#1f40e6", 879]].forEach(([name, col, yy]) => {
        g.append("line").attr("x1", 490).attr("x2", 530).attr("y1", yy).attr("y2", yy).attr("stroke", col).attr("stroke-width", 1.7);
        g.append("text").attr("x", 537).attr("y", yy + 5).attr("font-size", 14).attr("font-family", FONT).attr("fill", "#222").text(name);
    });
})();
panelLetter("H", 247, 771);

// ---------------- Panel I ----------------
(function () {
    const g = svg.append("g");
    const x = d3.scaleBand().domain(iGroups).range([657, 750]).paddingInner(0.38).paddingOuter(0);
    const y = d3.scaleLinear().domain([0, 2]).range([958, 803.3]);
    const fills = ["#fff", "#000"];
    iGroups.forEach((grp, i) => {
        const cx = x(grp) + x.bandwidth() / 2;
        vline(g, cx, y(iFold[i]), y(iFold[i] + iErr[i]), 1.5);
        hline(g, cx - 8, cx + 8, y(iFold[i] + iErr[i]), 1.5);
        g.append("rect").attr("x", x(grp)).attr("y", y(iFold[i])).attr("width", x.bandwidth())
            .attr("height", y(0) - y(iFold[i])).attr("fill", fills[i]).attr("stroke", "#000").attr("stroke-width", 1.5);
    });
    const c = grp => x(grp) + x.bandwidth() / 2;
    bracket(g, c("PBS"), c("L. rhamnosus"), y(1.78), y(1.65), y(0.58), "**");
    g.append("g").attr("transform", "translate(655.7,0)")
        .call(d3.axisLeft(y).tickValues([0, 0.5, 1, 1.5, 2]).tickFormat(d3.format(".1f")).tickSize(5).tickSizeOuter(0))
        .call(a => styleAxis(a, 12));
    hline(g, 655.7, 748, 958, 1.5);
    iGroups.forEach((grp, i) => {
        vline(g, c(grp), 958, 963);
        g.append("text").attr("transform", `translate(${c(grp) + 3},${968}) rotate(-60)`).attr("text-anchor", "end")
            .attr("font-size", 11.5).attr("font-style", i === 1 ? "italic" : "normal").attr("font-family", FONT)
            .attr("fill", "#222").text(grp);
    });
    rotLabel(g, "Fold change of ", 621, 888, 11.5, "D.formicigenerans");
})();
panelLetter("I", 604, 771);
</script>
</body>
</html>
